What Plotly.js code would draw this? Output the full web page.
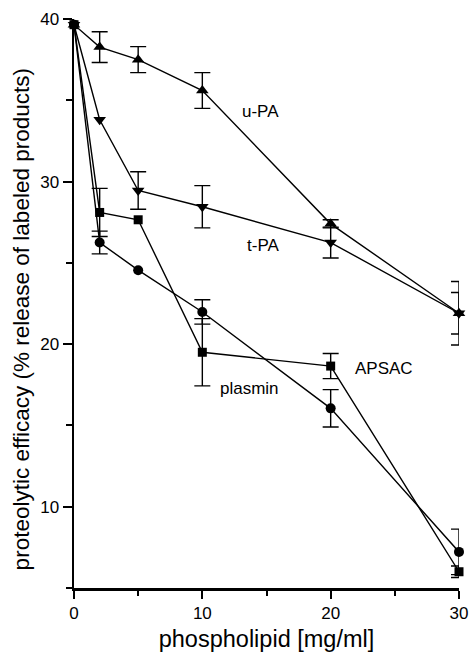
<!DOCTYPE html>
<html>
<head>
<meta charset="utf-8">
<script src="https://cdn.plot.ly/plotly-3.0.1.min.js"></script>
<style>html,body{margin:0;padding:0;background:#fff;}#chart{width:469px;height:652px;}</style>
</head>
<body>
<div id="chart"></div>
<script>
// phospholipid concentration [mg/ml]
var phospholipid = [0, 2, 5, 10, 20, 30];
// proteolytic efficacy (% release of labeled products)
var uPA = [39.65, 38.27, 37.5, 35.6, 27.4, 21.9];
var uPAerr = [NaN, 0.95, 0.8, 1.1, 0.25, 1.95];
var tPA = [39.65, 33.8, 29.45, 28.45, 26.25, 21.9];
var tPAerr = [NaN, NaN, 1.15, 1.3, 0.95, 1.28];
var APSAC = [39.65, 28.1, 27.65, 19.5, 18.65, 6.0];
var APSACerr = [NaN, 1.48, NaN, 2.07, 0.77, 0.35];
var plasmin = [39.65, 26.25, 24.55, 21.98, 16.05, 7.22];
var plasminErr = [NaN, 0.7, NaN, 0.75, 1.15, 1.4];

var seriesNames = ['u-PA', 't-PA', 'APSAC', 'plasmin'];
var labelX = [12.94, 13.33, 21.75, 11.22];
var labelY = [34.3, 26.05, 18.5, 17.3];

var xTitle = 'phospholipid [mg/ml]';
var yTitle = 'proteolytic efficacy (% release of labeled products)';

var FONT = 'Liberation Sans, Arial, sans-serif';

function mk(name, y, err, symbol, size) {
  return {
    type: 'scatter', mode: 'lines+markers', name: name,
    x: phospholipid, y: y, cliponaxis: false,
    line: {color: '#000', width: 1.4},
    marker: {symbol: symbol, size: size, color: '#000'},
    error_y: {type: 'data', array: err, visible: true, color: '#000', thickness: 1.4, width: 8}
  };
}

var data = [
  mk('u-PA', uPA, uPAerr, 'triangle-up', 11),
  mk('t-PA', tPA, tPAerr, 'triangle-down', 11),
  mk('APSAC', APSAC, APSACerr, 'square', 9),
  mk('plasmin', plasmin, plasminErr, 'circle', 10)
];

var annotations = seriesNames.map(function (n, i) {
  return {x: labelX[i], y: labelY[i], xref: 'x', yref: 'y', text: n, showarrow: false,
    xanchor: 'left', yanchor: 'middle', font: {family: FONT, size: 17, color: '#000'}};
});
annotations.push({
  x: -0.1378, y: 0.472, xref: 'paper', yref: 'paper', text: yTitle, showarrow: false,
  textangle: -90, xanchor: 'center', yanchor: 'middle',
  font: {family: FONT, size: 22.5, color: '#000'}
});

var layout = {
  width: 469, height: 652,
  margin: {l: 74, r: 10, t: 19, b: 64},
  paper_bgcolor: '#fff', plot_bgcolor: '#fff',
  showlegend: false,
  font: {family: FONT, color: '#000'},
  xaxis: {
    range: [0, 30], tick0: 0, dtick: 10, showgrid: false, zeroline: false,
    showline: true, linewidth: 2.5, linecolor: '#000',
    ticks: 'outside', ticklen: 8, tickwidth: 2, tickcolor: '#000',
    minor: {dtick: 5, ticks: 'outside', ticklen: 5, tickwidth: 2, tickcolor: '#000', showgrid: false},
    tickfont: {size: 17, family: FONT},
    title: {text: xTitle, font: {size: 23.5, family: FONT}, standoff: 10}
  },
  yaxis: {
    range: [5, 40], tick0: 0, dtick: 10, showgrid: false, zeroline: false,
    showline: true, linewidth: 2.5, linecolor: '#000',
    ticks: 'outside', ticklen: 9, tickwidth: 2, tickcolor: '#000',
    minor: {dtick: 5, ticks: 'outside', ticklen: 6, tickwidth: 2, tickcolor: '#000', showgrid: false},
    tickfont: {size: 17, family: FONT}
  },
  annotations: annotations
};

Plotly.newPlot('chart', data, layout, {displayModeBar: false, staticPlot: true});
</script>
</body>
</html>
